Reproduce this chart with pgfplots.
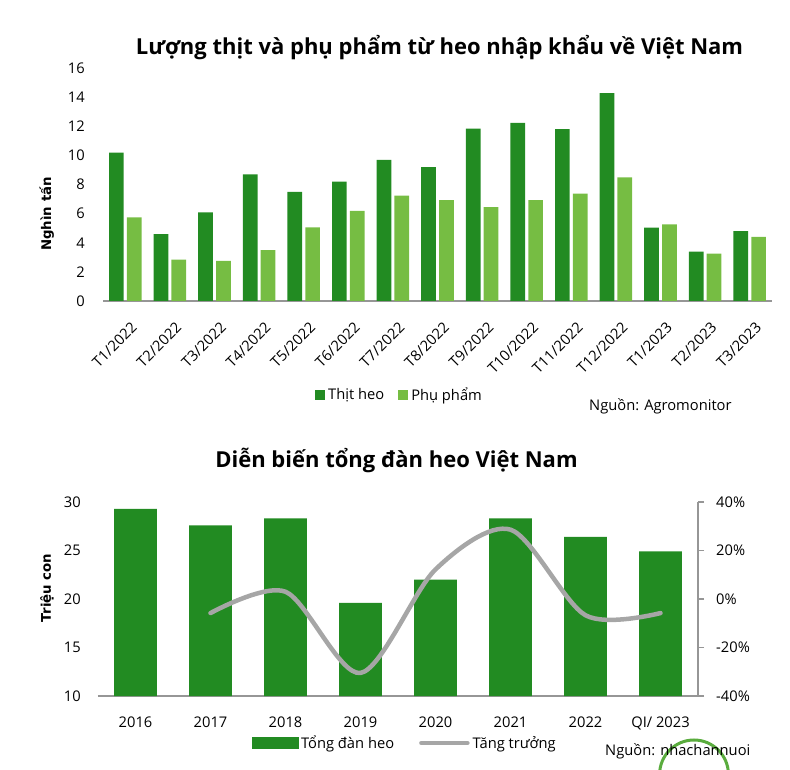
\documentclass[border=0pt]{standalone}
\usepackage{fontspec}
\setmainfont{Open Sans}
\newfontfamily\dejavu{DejaVu Sans}
\usepackage{pgfplots}
\pgfplotsset{compat=1.18}
\definecolor{dkg}{RGB}{34,139,34}
\definecolor{ltg}{RGB}{118,189,67}
\definecolor{axg}{RGB}{150,150,150}
\definecolor{lng}{RGB}{166,166,166}
\definecolor{logo}{RGB}{90,172,62}
\newcommand{\tf}{\fontsize{14.7}{15}\selectfont}
\begin{document}
\begin{tikzpicture}[x=1pt,y=1pt]
\useasboundingbox (0,0) rectangle (790,769);
% ---------------- top chart ----------------
\begin{axis}[
  at={(103pt,468pt)}, anchor=south west, scale only axis,
  width=669pt, height=232.7pt,
  xmin=-0.5, xmax=14.5, ymin=0, ymax=16,
  ytick={0,2,...,16},
  xtick={0,...,14},
  xticklabels={T1/2022,T2/2022,T3/2022,T4/2022,T5/2022,T6/2022,T7/2022,T8/2022,T9/2022,T10/2022,T11/2022,T12/2022,T1/2023,T2/2023,T3/2023},
  axis x line*=bottom, axis y line*=left,
  y axis line style={draw=none},
  x axis line style={draw=axg, line width=1.5pt, -},
  major tick length=0pt, tick style={draw=none},
  /pgf/number format/assume math mode=true,
  ticklabel style={font=\tf},
  yticklabel style={anchor=east, inner sep=0pt, xshift=-18pt},
  xticklabel style={xshift=5pt, yshift=-20pt, rotate=45, anchor=north east, inner sep=0pt},
  ylabel={\dejavu\bfseries Nghìn tấn},
  ylabel style={at={(axis description cs:-0.084,0.374)}, anchor=center, font=\fontsize{13.3}{13}\selectfont},
  legend columns=2,
  legend style={at={(axis description cs:0.444,-0.404)}, anchor=center, draw=none, fill=none,
    font=\tf, nodes={inner xsep=3pt, inner ysep=0pt},
    /tikz/every even column/.append style={column sep=11pt}},
]
\addplot[ybar, fill=dkg, draw=none, bar width=0.33, bar shift=-0.2,
  legend image code/.code={\fill[dkg] (0pt,-5pt) rectangle (10pt,5pt);}]
  coordinates {(0,10.2) (1,4.6) (2,6.1) (3,8.7) (4,7.5) (5,8.2) (6,9.7) (7,9.2) (8,11.85) (9,12.25) (10,11.82) (11,14.3) (12,5.05) (13,3.4) (14,4.8)};
\addlegendentry{Thịt heo}
\addplot[ybar, fill=ltg, draw=none, bar width=0.33, bar shift=0.2,
  legend image code/.code={\fill[ltg] (0pt,-5pt) rectangle (10pt,5pt);}]
  coordinates {(0,5.75) (1,2.85) (2,2.76) (3,3.49) (4,5.06) (5,6.2) (6,7.24) (7,6.94) (8,6.46) (9,6.94) (10,7.38) (11,8.5) (12,5.26) (13,3.26) (14,4.41)};
\addlegendentry{Phụ phẩm}
\end{axis}
% ---------------- bottom chart: bars ----------------
\begin{axis}[
  at={(98pt,73pt)}, anchor=south west, scale only axis,
  width=600pt, height=194pt,
  xmin=-0.5, xmax=7.5, ymin=10, ymax=30,
  ytick={10,15,...,30},
  xtick={0,...,7},
  xticklabels={2016,2017,2018,2019,2020,2021,2022,QI/ 2023},
  axis x line*=bottom, axis y line*=left,
  y axis line style={draw=none},
  x axis line style={draw=axg, line width=1.5pt, -},
  major tick length=0pt, tick style={draw=none},
  /pgf/number format/assume math mode=true,
  ticklabel style={font=\tf},
  yticklabel style={anchor=east, inner sep=0pt, xshift=-17pt},
  xticklabel style={anchor=base, inner sep=0pt, yshift=-31.5pt},
  ylabel={\dejavu\bfseries Triệu con},
  ylabel style={at={(axis description cs:-0.085,0.557)}, anchor=center, font=\fontsize{13.3}{13}\selectfont},
]
\addplot[ybar, fill=dkg, draw=none, bar width=0.57]
  coordinates {(0,29.3) (1,27.6) (2,28.3) (3,19.6) (4,22.0) (5,28.3) (6,26.4) (7,24.9)};
\end{axis}
% ---------------- bottom chart: growth line ----------------
\begin{axis}[
  at={(98pt,73pt)}, anchor=south west, scale only axis,
  width=600pt, height=194pt,
  xmin=-0.5, xmax=7.5, ymin=-40, ymax=40,
  ytick={-40,-20,0,20,40},
  yticklabels={-40\%,-20\%,0\%,20\%,40\%},
  axis x line=none, axis y line*=right,
  y axis line style={draw=axg, line width=1.5pt, -},
  tick align=outside, major tick length=6pt,
  ytick style={draw=axg, line width=1.2pt},
  ticklabel style={font=\tf},
  yticklabel style={anchor=west, inner sep=0pt, xshift=12pt},
  legend columns=2,
  legend style={at={(axis description cs:0.512,-0.242)}, anchor=center, draw=none, fill=none,
    font=\tf, nodes={inner xsep=3pt, inner ysep=0pt},
    /tikz/every even column/.append style={column sep=22pt}},
]
\addlegendimage{legend image code/.code={\fill[dkg] (0pt,-5.5pt) rectangle (46pt,5.5pt);}}
\addlegendentry{Tổng đàn heo}
\addplot[smooth, line width=4.5pt, color=lng, line cap=round, no markers,
  legend image code/.code={\draw[lng, line width=4.5pt, line cap=round] (0pt,0pt) -- (46pt,0pt);}]
  coordinates {(1,-5.8) (2,3.0) (3,-30.5) (4,12.2) (5,28.6) (6,-6.7) (7,-5.8)};
\addlegendentry{Tăng trưởng}
\end{axis}
% ---------------- titles and sources ----------------
\node[anchor=base, font=\fontsize{22}{22}\selectfont\bfseries, inner sep=0pt] at (439.5,714) {Lượng thịt và phụ phẩm từ heo nhập khẩu về Việt Nam};
\node[anchor=base, font=\fontsize{22}{22}\selectfont\bfseries, inner sep=0pt] at (396.5,301) {Diễn biến tổng đàn heo Việt Nam};
\node[anchor=base west, font=\tf, inner sep=0pt] at (589,358) {Nguồn: Agromonitor};
\draw[logo, line width=3pt] (694,-5.4) circle (34.4);
\node[anchor=base west, font=\tf, inner sep=0pt] at (605,14) {Nguồn: nhachannuoi};
\end{tikzpicture}
\end{document}
